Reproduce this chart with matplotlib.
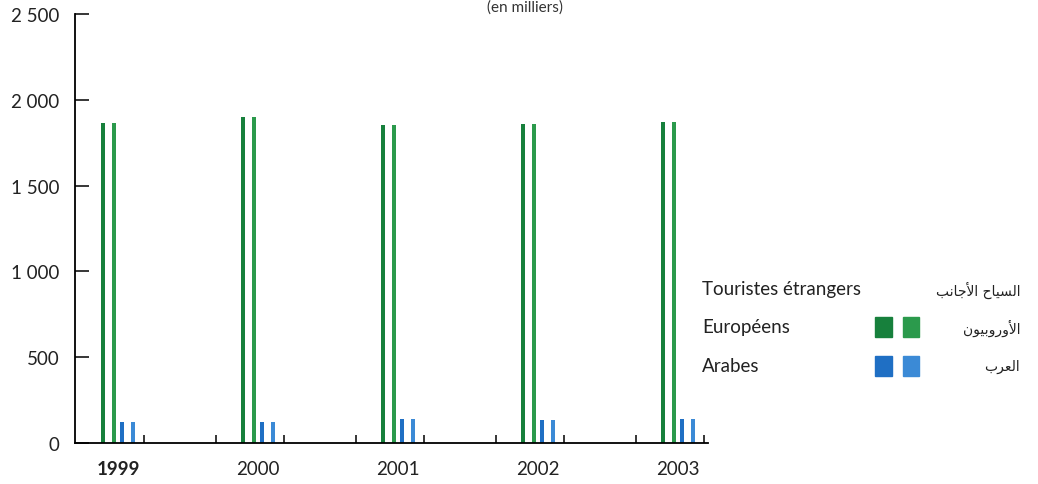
"""Foreign tourist arrivals by origin, 1999-2003 (thousands)."""
import matplotlib

matplotlib.use("Agg")
import matplotlib.pyplot as plt
from matplotlib.patches import Rectangle
import numpy as np

years = ["1999", "2000", "2001", "2002", "2003"]
europeans = [1865, 1900, 1855, 1860, 1872]
arabs = [122, 122, 138, 136, 140]
y_ticks = [0, 500, 1000, 1500, 2000, 2500]
y_labels = ["0", "500", "1 000", "1 500", "2 000", "2 500"]

legend_fr = ["Touristes étrangers", "Européens", "Arabes"]
# Arabic labels in visual (left-to-right) order using presentation forms,
# since matplotlib does no shaping or bidi.
legend_ar = [
    "\uFE90\uFEE7\uFE8E\uFE9F\uFEF7\uFE8D \uFEA1\uFE8E\uFEF4\uFEB4\uFEDF\uFE8D",
    "\uFEE5\uFEEE\uFEF4\uFE91\uFEED\uFEAD\uFEED\uFEF7\uFE8D",
    "\uFE8F\uFEAE\uFECC\uFEDF\uFE8D",
]

GREEN_DARK = "#17803c"
GREEN = "#2b9a4c"
BLUE_DARK = "#1f6fc4"
BLUE = "#3b8ad6"

plt.rcParams["font.family"] = ["Lato", "DejaVu Sans"]

W, H = 1038, 485
fig = plt.figure(figsize=(W / 100, H / 100), dpi=100)
ax = fig.add_axes([75 / W, 1 - 444 / H, (708 - 75) / W, (444 - 15) / H])

x = np.arange(len(years))
stripe = 0.027
ax.bar(x - 0.107, europeans, width=stripe, color=GREEN_DARK)
ax.bar(x - 0.029, europeans, width=stripe, color=GREEN)
ax.bar(x + 0.029, arabs, width=stripe, color=BLUE_DARK)
ax.bar(x + 0.107, arabs, width=stripe, color=BLUE)

ax.set_xlim(-0.307, 4.214)
ax.set_ylim(0, 2500)

for side in ["top", "right"]:
    ax.spines[side].set_visible(False)
ax.spines["left"].set_linewidth(1.3)
ax.spines["bottom"].set_linewidth(1.3)

ax.set_yticks(y_ticks)
ax.set_yticklabels(y_labels, fontsize=13.5, color="#222222")
ax.tick_params(axis="y", direction="in", length=10, width=1.1, pad=11)

ax.set_xticks(x)
ax.set_xticklabels(years, fontsize=13.5, color="#222222")
ax.get_xticklabels()[0].set_fontweight("bold")
ax.tick_params(axis="x", which="major", length=0, pad=12)
ax.set_xticks(np.concatenate([x + 0.186, x[:-1] + 0.7]), minor=True)
ax.tick_params(axis="x", which="minor", direction="in", length=6, width=1.1)

fig.text(525 / W, 1.0, "(en milliers)", ha="center", va="top",
         fontsize=11, color="#333333")

rows_y = [290, 328, 367]
for text_fr, text_ar, yy in zip(legend_fr, legend_ar, rows_y):
    fig.text(702 / W, 1 - yy / H, text_fr, ha="left", va="center",
             fontsize=13.5, color="#222222")
    fig.text(1020 / W, 1 - yy / H, text_ar, ha="right", va="center",
             fontsize=10, color="#222222", family="DejaVu Sans")

for (c1, c2), yy in zip([(GREEN_DARK, GREEN), (BLUE_DARK, BLUE)], rows_y[1:]):
    for x0, w, c in [(875, 17, c1), (903, 16, c2)]:
        fig.patches.append(Rectangle((x0 / W, 1 - (yy + 10) / H), w / W, 20 / H,
                                     transform=fig.transFigure, color=c))

fig.savefig("out.png", dpi=100)
